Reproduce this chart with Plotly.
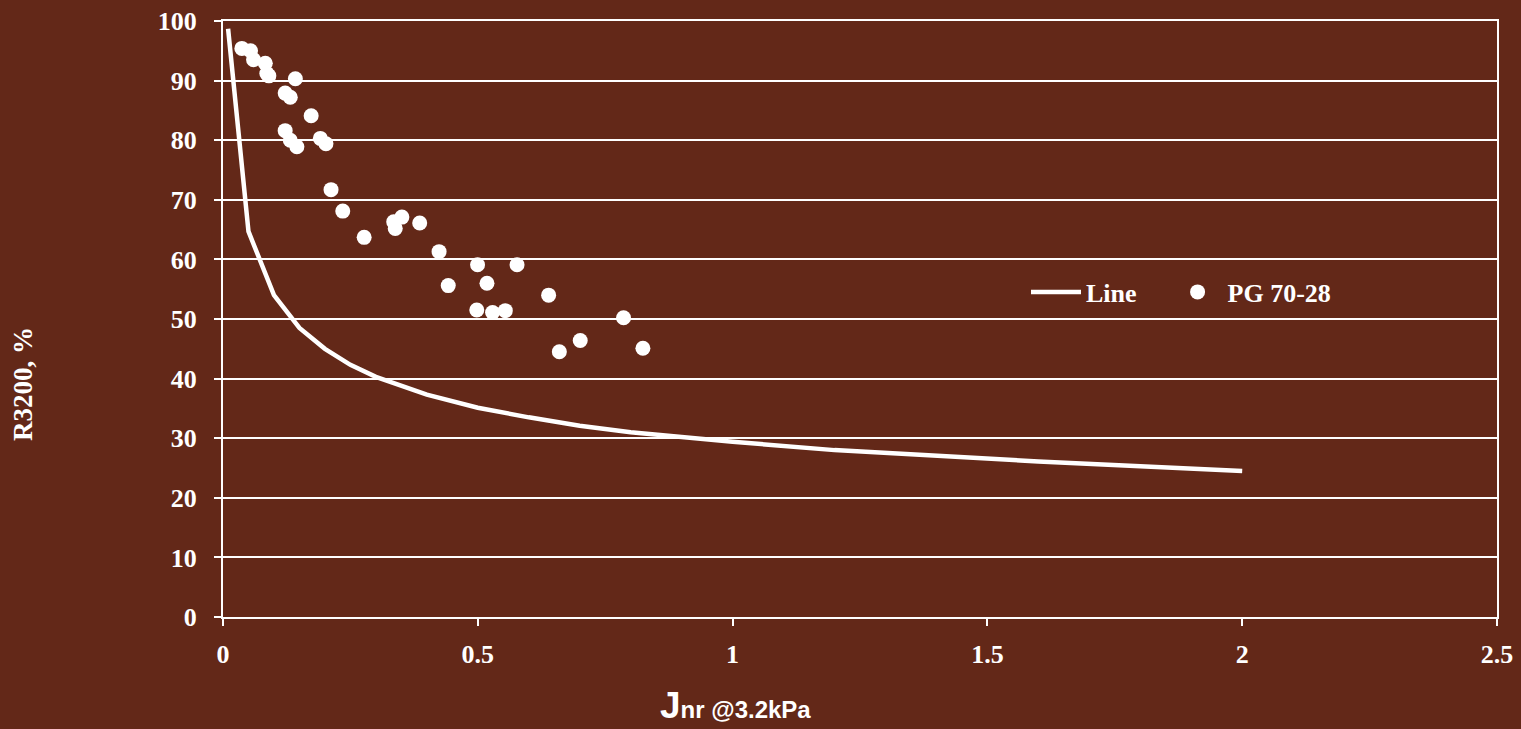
import plotly.graph_objects as go

# Fitted relationship curve (J_nr vs recovery)
line_j = [0.01, 0.05, 0.1, 0.15, 0.2, 0.25, 0.3, 0.35, 0.4, 0.5, 0.6, 0.7,
          0.8, 0.9, 1.0, 1.2, 1.4, 1.6, 1.8, 2.0]
line_r = [98.7, 64.7, 54.0, 48.5, 45.0, 42.3, 40.3, 38.7, 37.3, 35.1, 33.5, 32.1,
          31.0, 30.2, 29.4, 28.0, 27.0, 26.1, 25.3, 24.5]

# PG 70-28 binder measurements
pg_j = [0.037, 0.054, 0.060, 0.083, 0.086, 0.090, 0.142, 0.122, 0.132, 0.173,
        0.122, 0.132, 0.145, 0.191, 0.202, 0.212, 0.235, 0.277, 0.335, 0.338,
        0.351, 0.386, 0.424, 0.442, 0.4995, 0.577, 0.518, 0.639, 0.498, 0.529,
        0.554, 0.786, 0.701, 0.660, 0.824]
pg_r = [95.4, 95.0, 93.5, 92.9, 91.2, 90.8, 90.3, 87.9, 87.2, 84.1,
        81.6, 80.0, 78.9, 80.3, 79.4, 71.7, 68.1, 63.7, 66.3, 65.2,
        67.1, 66.1, 61.3, 55.6, 59.1, 59.1, 56.0, 54.0, 51.5, 51.1,
        51.4, 50.2, 46.4, 44.5, 45.1]

x_ticks = [0, 0.5, 1, 1.5, 2, 2.5]
x_labels = ["0", "0.5", "1", "1.5", "2", "2.5"]
y_ticks = [0, 10, 20, 30, 40, 50, 60, 70, 80, 90, 100]

BG = "#632818"
serif = "Liberation Serif, Times New Roman, serif"
sans = "Liberation Sans, Arial, sans-serif"

# Plot-area geometry in pixels
W, H = 1521, 729
ML, MR, MT, MB = 223, 24, 21, 112
plot_w = W - ML - MR
plot_h = H - MT - MB


def px_x(px):
    return (px - ML) / plot_w


def px_y(py):
    return (H - MB - py) / plot_h


fig = go.Figure()
fig.add_trace(go.Scatter(
    x=line_j, y=line_r, mode="lines", name="<b>Line</b>&nbsp;&nbsp;&nbsp;&nbsp;",
    line=dict(color="white", width=4.5),
))
fig.add_trace(go.Scatter(
    x=pg_j, y=pg_r, mode="markers", name="<b>PG 70-28</b>",
    marker=dict(color="white", size=15, line=dict(width=0)),
))

fig.update_layout(
    width=W, height=H,
    paper_bgcolor=BG, plot_bgcolor=BG,
    margin=dict(l=ML, r=MR, t=MT, b=MB, autoexpand=False),
    font=dict(family=serif, color="white", size=26),
    showlegend=True,
    legend=dict(
        orientation="h", x=px_x(1026), y=px_y(292), xanchor="left", yanchor="middle",
        bgcolor="rgba(0,0,0,0)", font=dict(family=serif, size=26, color="white"),
        itemwidth=50,
    ),
    xaxis=dict(
        range=[0, 2.5], tickvals=x_ticks, ticktext=[f"<b>{t}</b>" for t in x_labels],
        showgrid=False, zeroline=False, showline=True, linecolor="white", linewidth=2,
        mirror=True, ticks="outside", tickcolor="white", ticklen=7, tickwidth=2,
        ticklabelstandoff=6, automargin=False,
        tickfont=dict(family=serif, size=26, color="white"),
    ),
    yaxis=dict(
        range=[0, 100], tickvals=y_ticks, ticktext=[f"<b>{t}</b>" for t in y_ticks],
        showgrid=True, gridcolor="white", gridwidth=2, zeroline=False,
        showline=True, linecolor="white", linewidth=2, mirror=True,
        ticks="outside", tickcolor="white", ticklen=7, tickwidth=2,
        ticklabelstandoff=12, automargin=False,
        tickfont=dict(family=serif, size=26, color="white"),
    ),
    annotations=[
        dict(
            text="<b>R3200, %</b>", x=px_x(23), y=px_y(384), xref="paper", yref="paper",
            xanchor="center", yanchor="middle",
            showarrow=False, textangle=-90,
            font=dict(family=serif, size=27, color="white"),
        ),
        dict(
            text="<b><span style='font-size:37px'>J</span>nr @3.2kPa</b>",
            x=px_x(735), y=px_y(705), xref="paper", yref="paper",
            xanchor="center", yanchor="middle",
            showarrow=False, font=dict(family=sans, size=24, color="white"),
        ),
    ],
)

fig.write_html("out.html")
